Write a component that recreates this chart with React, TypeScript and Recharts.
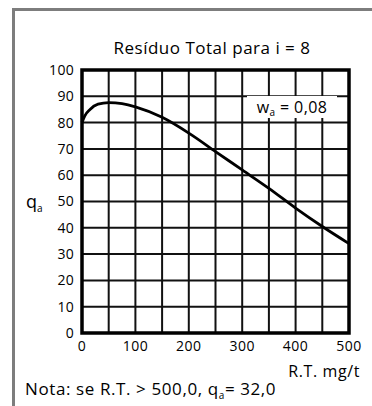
import React from 'react';
import { LineChart, Line, XAxis, YAxis, CartesianGrid, ReferenceArea } from 'recharts';

// Resíduo total (mg/t) vs q_a, i = 8
const rtValues = [0, 5, 15, 30, 50, 75, 100, 150, 200, 250, 300, 350, 400, 450, 500];
const qaValues = [80, 82.5, 85, 87, 87.6, 87.2, 86, 82, 76, 69, 62, 55, 47.5, 40.5, 34];

const xTicks = [0, 50, 100, 150, 200, 250, 300, 350, 400, 450, 500];
const yTicks = [0, 10, 20, 30, 40, 50, 60, 70, 80, 90, 100];

const chartData = rtValues.map((rt, i) => ({ rt, qa: qaValues[i] }));

const FONT = '"Open Sans", "DejaVu Sans", sans-serif';

const sub = (size: number, drop: number) => ({ fontSize: size, position: 'relative' as const, top: drop });

const App = () => {
  return (
    <div
      style={{
        position: 'absolute',
        left: 0,
        top: 0,
        width: 372,
        height: 406,
        overflow: 'hidden',
        background: '#fff',
        fontFamily: FONT,
        color: '#000',
      }}
    >
      {/* frame */}
      <div
        style={{
          position: 'absolute',
          left: 12,
          top: 8,
          width: 420,
          height: 420,
          borderTop: '3px solid #7d7d7d',
          borderLeft: '3px solid #7d7d7d',
        }}
      />

      <LineChart
        width={372}
        height={406}
        data={chartData}
        margin={{ top: 70, right: 23, left: 42, bottom: 43 }}
        style={{ position: 'absolute', left: 0, top: 0 }}
      >
        <CartesianGrid stroke="#111" strokeWidth={2} />
        <XAxis
          dataKey="rt"
          type="number"
          domain={[0, 500]}
          ticks={xTicks}
          tickFormatter={(v: number) => (v % 100 === 0 ? String(v) : '')}
          axisLine={false}
          tickLine={false}
          tickSize={0}
          tickMargin={8}
          height={30}
          interval={0}
          tick={{ fill: '#000', fontSize: 14, fontFamily: FONT, letterSpacing: 0.5 }}
        />
        <YAxis
          type="number"
          domain={[0, 100]}
          ticks={yTicks}
          axisLine={false}
          tickLine={false}
          tickSize={0}
          tickMargin={8}
          width={40}
          interval={0}
          tick={{ fill: '#000', fontSize: 14, fontFamily: FONT, letterSpacing: 0.3 }}
        />
        <ReferenceArea
          x1={0}
          x2={500}
          y1={0}
          y2={100}
          fill="none"
          fillOpacity={0}
          stroke="#000"
          strokeWidth={3.5}
          ifOverflow="visible"
        />
        <Line
          type="monotone"
          dataKey="qa"
          stroke="#000"
          strokeWidth={2.8}
          dot={false}
          isAnimationActive={false}
        />
      </LineChart>

      {/* title */}
      <div
        style={{
          position: 'absolute',
          left: 52,
          width: 320,
          top: 37,
          textAlign: 'center',
          fontSize: 17,
          letterSpacing: 0.5,
          lineHeight: '22px',
        }}
      >
        Resíduo Total para i = 8
      </div>

      {/* w_a label box */}
      <div
        style={{
          position: 'absolute',
          left: 247,
          top: 96,
          width: 90,
          height: 22,
          background: '#fff',
          textAlign: 'center',
          fontSize: 16,
          letterSpacing: 0.4,
          lineHeight: '22px',
          whiteSpace: 'nowrap',
        }}
      >
        w<span style={sub(10, 3)}>a</span> = 0,08
      </div>

      {/* y axis label */}
      <div style={{ position: 'absolute', left: 26, top: 190, fontSize: 18, lineHeight: '22px' }}>
        q<span style={sub(10, 4)}>a</span>
      </div>

      {/* x axis label */}
      <div
        style={{
          position: 'absolute',
          right: 12,
          top: 360,
          fontSize: 16,
          letterSpacing: 0.6,
          lineHeight: '22px',
        }}
      >
        R.T. mg/t
      </div>

      {/* note */}
      <div
        style={{
          position: 'absolute',
          left: 25,
          top: 378,
          fontSize: 17,
          letterSpacing: 0.6,
          lineHeight: '22px',
          whiteSpace: 'nowrap',
        }}
      >
        Nota: se R.T. &gt; 500,0, q<span style={sub(10, 4)}>a</span>= 32,0
      </div>
    </div>
  );
};

export default App;
